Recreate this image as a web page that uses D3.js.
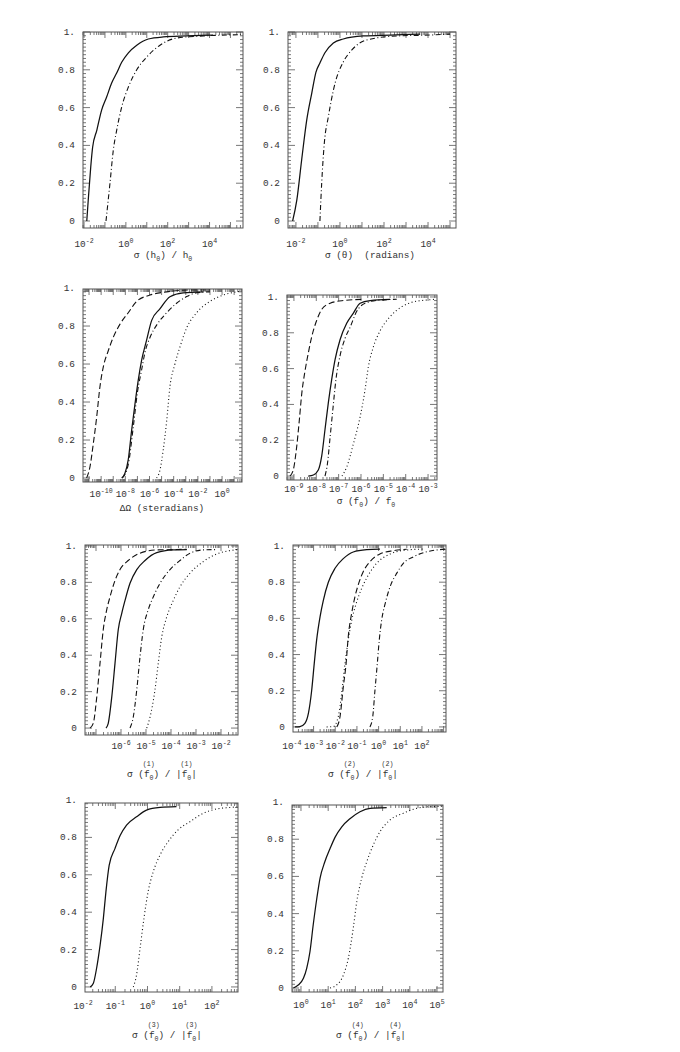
<!DOCTYPE html>
<html><head><meta charset="utf-8">
<script src="https://cdn.jsdelivr.net/npm/d3@7"></script>
<style>
body{margin:0;background:#fff}
text{font-family:"Liberation Mono","DejaVu Sans Mono",monospace;fill:#333;white-space:pre}
</style>
</head><body>
<svg id="c" width="680" height="1052"></svg>
<script>
// ---- data: [log10(x), cumulative fraction] ----
const h0Solid = [[-1.87,0],[-1.80,0.11],[-1.68,0.286],[-1.59,0.39],[-1.39,0.48],[-1.16,0.587],[-0.92,0.656],[-0.68,0.73],[-0.44,0.783],[-0.20,0.84],[0.12,0.89],[0.52,0.93],[1.07,0.963],[1.79,0.974],[2.91,0.979],[4.17,0.984]];
const h0DashDot = [[-0.95,0],[-0.76,0.2],[-0.6,0.376],[-0.44,0.48],[-0.2,0.603],[0.12,0.709],[0.52,0.80],[1.0,0.868],[1.63,0.93],[2.43,0.968],[3.7,0.979],[5.5,0.986]];
const thetaSolid = [[-2.15,0],[-1.96,0.11],[-1.74,0.323],[-1.51,0.534],[-1.28,0.677],[-1.09,0.788],[-0.91,0.836],[-0.69,0.889],[-0.30,0.942],[0.15,0.963],[1.06,0.979],[2.28,0.984],[3.64,0.989]];
const thetaDashDot = [[-0.91,0],[-0.83,0.2],[-0.71,0.413],[-0.53,0.55],[-0.22,0.73],[0.15,0.841],[0.54,0.905],[1.22,0.958],[2.58,0.979],[4.1,0.984],[5.0,0.989]];
const omegaDashed = [[-11.2,0],[-10.92,0.06],[-10.65,0.18],[-10.37,0.32],[-10.1,0.48],[-9.82,0.585],[-9.41,0.67],[-9.0,0.74],[-8.44,0.81],[-7.76,0.87],[-7.06,0.93],[-5.96,0.963],[-4.58,0.98],[-2.66,0.99],[-1.0,0.99]];
const omegaSolid = [[-8.3,0],[-8.03,0.025],[-7.76,0.095],[-7.48,0.25],[-7.2,0.39],[-6.93,0.515],[-6.65,0.62],[-6.24,0.726],[-5.82,0.83],[-5.14,0.89],[-4.31,0.954],[-3.21,0.975],[-1.56,0.98]];
const omegaDashDot = [[-8.25,0],[-7.76,0.07],[-7.34,0.27],[-7.0,0.45],[-6.65,0.57],[-6.38,0.66],[-5.96,0.74],[-5.41,0.805],[-4.58,0.87],[-3.76,0.92],[-2.93,0.955],[-2.1,0.975],[-1.0,0.98]];
const omegaDotted = [[-5.41,0],[-5.14,0.04],[-4.86,0.15],[-4.58,0.3],[-4.31,0.48],[-3.9,0.60],[-3.48,0.69],[-2.93,0.79],[-2.1,0.87],[-1.0,0.93],[0.1,0.963],[1.2,0.98],[1.6,0.983]];
const f0Dashed = [[-9.18,0],[-9.03,0.034],[-8.88,0.16],[-8.76,0.31],[-8.65,0.46],[-8.5,0.59],[-8.36,0.685],[-8.2,0.78],[-7.98,0.87],[-7.76,0.93],[-7.38,0.965],[-6.79,0.98],[-5.89,0.987]];
const f0Solid = [[-8.36,0],[-8.13,0.006],[-7.91,0.034],[-7.76,0.11],[-7.61,0.26],[-7.46,0.41],[-7.31,0.54],[-7.16,0.65],[-6.94,0.76],[-6.64,0.853],[-6.34,0.91],[-6.04,0.965],[-5.59,0.98],[-4.7,0.987]];
const f0DashDot = [[-7.61,0],[-7.5,0.07],[-7.38,0.22],[-7.26,0.37],[-7.12,0.54],[-6.94,0.67],[-6.71,0.77],[-6.49,0.83],[-6.19,0.92],[-5.82,0.965],[-5.15,0.983],[-4.4,0.987]];
const f0Dotted = [[-6.85,0],[-6.64,0.05],[-6.34,0.18],[-6.04,0.33],[-5.82,0.48],[-5.67,0.61],[-5.45,0.72],[-5.15,0.81],[-4.7,0.89],[-4.17,0.946],[-3.65,0.973],[-3.05,0.983],[-2.68,0.987]];
const f1Dashed = [[-7.24,0],[-7.11,0.026],[-6.97,0.17],[-6.84,0.355],[-6.71,0.54],[-6.57,0.65],[-6.44,0.72],[-6.24,0.81],[-6.04,0.87],[-5.71,0.92],[-5.24,0.96],[-4.57,0.978],[-3.77,0.98],[-3.37,0.982]];
const f1Solid = [[-6.6,0],[-6.51,0.026],[-6.37,0.17],[-6.24,0.355],[-6.11,0.54],[-5.97,0.63],[-5.84,0.70],[-5.64,0.795],[-5.37,0.87],[-5.04,0.92],[-4.57,0.963],[-3.91,0.978],[-3.37,0.98]];
const f1DashDot = [[-5.64,0],[-5.51,0.06],[-5.37,0.21],[-5.24,0.39],[-5.11,0.54],[-4.91,0.65],[-4.71,0.72],[-4.44,0.795],[-4.04,0.87],[-3.64,0.92],[-3.24,0.96],[-2.71,0.978],[-2.17,0.98]];
const f1Dotted = [[-4.97,0],[-4.84,0.06],[-4.64,0.21],[-4.51,0.355],[-4.37,0.50],[-4.17,0.61],[-3.91,0.70],[-3.64,0.776],[-3.24,0.85],[-2.71,0.914],[-2.17,0.956],[-1.64,0.974],[-1.33,0.98]];
const f2Solid = [[-3.86,0],[-3.63,0.002],[-3.4,0.02],[-3.24,0.075],[-3.09,0.20],[-2.97,0.35],[-2.86,0.48],[-2.70,0.61],[-2.55,0.70],[-2.32,0.80],[-2.01,0.877],[-1.63,0.93],[-1.17,0.967],[-0.55,0.98],[0.06,0.983]];
const f2Dashed = [[-1.93,0],[-1.78,0.057],[-1.63,0.22],[-1.5,0.35],[-1.4,0.50],[-1.24,0.63],[-1.09,0.72],[-0.94,0.785],[-0.71,0.858],[-0.4,0.913],[0.06,0.956],[0.68,0.974],[1.3,0.982]];
const f2Dotted = [[-2.4,0],[-2.09,0.002],[-1.86,0.057],[-1.7,0.19],[-1.55,0.35],[-1.4,0.48],[-1.24,0.59],[-1.04,0.68],[-0.78,0.766],[-0.47,0.84],[-0.09,0.904],[0.53,0.956],[1.3,0.978],[2.06,0.983]];
const f2DashDot = [[-0.4,0],[-0.27,0.057],[-0.17,0.20],[-0.06,0.35],[0.03,0.48],[0.14,0.59],[0.3,0.68],[0.53,0.775],[0.84,0.85],[1.14,0.904],[1.6,0.94],[2.22,0.968],[2.83,0.98],[3.1,0.983]];
const f3Solid = [[-1.78,0],[-1.68,0.02],[-1.58,0.1],[-1.47,0.225],[-1.37,0.367],[-1.29,0.51],[-1.19,0.65],[-1.01,0.74],[-0.85,0.81],[-0.65,0.866],[-0.34,0.91],[-0.03,0.946],[0.39,0.96],[0.90,0.964]];
const f3Dotted = [[-0.44,0],[-0.34,0.064],[-0.23,0.207],[-0.11,0.367],[0.02,0.51],[0.18,0.617],[0.39,0.706],[0.64,0.777],[0.95,0.84],[1.32,0.884],[1.73,0.929],[2.14,0.952],[2.56,0.96],[2.8,0.964]];
const f4Solid = [[-0.28,0],[-0.1,0.016],[0.09,0.052],[0.21,0.106],[0.33,0.195],[0.45,0.34],[0.58,0.48],[0.7,0.59],[0.88,0.68],[1.07,0.75],[1.25,0.81],[1.5,0.867],[1.8,0.91],[2.17,0.948],[2.54,0.966],[3.15,0.97]];
const f4Dotted = [[1.07,0],[1.31,0.016],[1.56,0.07],[1.74,0.16],[1.92,0.32],[2.05,0.464],[2.23,0.59],[2.42,0.68],[2.66,0.77],[2.9,0.84],[3.27,0.903],[3.76,0.94],[4.25,0.966],[4.74,0.975],[5.2,0.977]];

// tick label exponents
const h0Ticks = [-2,0,2,4];
const thetaTicks = [-2,0,2,4];
const omegaTicks = [-10,-8,-6,-4,-2,0];
const f0Ticks = [-9,-8,-7,-6,-5,-4,-3];
const f1Ticks = [-6,-5,-4,-3,-2];
const f2Ticks = [-4,-3,-2,-1,0,1,2];
const f3Ticks = [-2,-1,0,1,2];
const f4Ticks = [0,1,2,3,4,5];
const yTickValues = [0,0.2,0.4,0.6,0.8,1.0];
const yTickLabels = ["0","0.2","0.4","0.6","0.8","1."];

// ---- layout ----
const dash = {solid:null, dashed:"6,3", dashdot:"5,2.5,1,2.5", dotted:"1,2.6"};
const panels = [
 {f:[83,243,32,228], xd:[-2.05,5.6], yd:[-0.037,1.0], ticks:h0Ticks, tY:247, lY:258, lX:163,
  series:[[h0Solid,"solid"],[h0DashDot,"dashdot"]], label:[["σ (h"],["0","sub"],[") / h"],["0","sub"]]},
 {f:[288,456,32,228], xd:[-2.36,5.27], yd:[-0.037,1.0], ticks:thetaTicks, tY:247, lY:258, lX:370,
  series:[[thetaSolid,"solid"],[thetaDashDot,"dashdot"]], label:[["σ (θ)  (radians)"]]},
 {f:[83,242,289,482], xd:[-11.5,1.65], yd:[-0.021,0.995], ticks:omegaTicks, tY:497, lY:511, lX:162,
  series:[[omegaDashed,"dashed"],[omegaSolid,"solid"],[omegaDashDot,"dashdot"],[omegaDotted,"dotted"]], label:[["ΔΩ (steradians)"]]},
 {f:[287,437,295,480], xd:[-9.31,-2.6], yd:[-0.022,1.011], ticks:f0Ticks, tY:492, lY:504, lX:366,
  series:[[f0Dashed,"dashed"],[f0Solid,"solid"],[f0DashDot,"dashdot"],[f0Dotted,"dotted"]], label:[["σ (f"],["0","sub"],[") / f"],["0","sub"]]},
 {f:[85,238,545,735], xd:[-7.44,-1.32], yd:[-0.038,1.005], ticks:f1Ticks, tY:749, lY:777, lX:162, sup:"(1)",
  series:[[f1Dashed,"dashed"],[f1Solid,"solid"],[f1DashDot,"dashdot"],[f1Dotted,"dotted"]], label:[["σ ("],["f","over"],["0","sub"],[") / |"],["f","over"],["0","sub"],["|"]]},
 {f:[293,446,545,732], xd:[-3.95,3.11], yd:[-0.028,1.0055], ticks:f2Ticks, tY:749, lY:777, lX:363, sup:"(2)",
  series:[[f2Solid,"solid"],[f2Dashed,"dashed"],[f2Dotted,"dotted"],[f2DashDot,"dashdot"]], label:[["σ ("],["f","over"],["0","sub"],[") / |"],["f","over"],["0","sub"],["|"]]},
 {f:[85,238,803,992], xd:[-1.94,2.81], yd:[-0.027,0.984], ticks:f3Ticks, tY:1009, lY:1038, lX:167, sup:"(3)",
  series:[[f3Solid,"solid"],[f3Dotted,"dotted"]], label:[["σ ("],["f","over"],["0","sub"],[") / |"],["f","over"],["0","sub"],["|"]]},
 {f:[292,443,805,992], xd:[-0.33,5.22], yd:[-0.0215,0.984], ticks:f4Ticks, tY:1008, lY:1038, lX:371, sup:"(4)",
  series:[[f4Solid,"solid"],[f4Dotted,"dotted"]], label:[["σ ("],["f","over"],["0","sub"],[") / |"],["f","over"],["0","sub"],["|"]]}
];

const svg = d3.select("#c");
const FS = 9.4, SFS = 6.6;

panels.forEach(p => {
  const [x0,x1,y0,y1] = p.f;
  const xs = d3.scaleLog().domain([10**p.xd[0], 10**p.xd[1]]).range([x0,x1]);
  const ys = d3.scaleLinear().domain(p.yd).range([y1,y0]);
  const g = svg.append("g");

  const xt = [];
  for (let n = Math.floor(p.xd[0]); n <= Math.ceil(p.xd[1]); n++)
    for (let k = 1; k <= 9; k++) {
      const v = k * 10**n;
      if (v >= 10**p.xd[0] && v <= 10**p.xd[1]) xt.push([v, k===1]);
    }
  g.selectAll(null).data(xt).join("line")
    .attr("x1", d=>xs(d[0])).attr("x2", d=>xs(d[0]))
    .attr("y1", y1).attr("y2", d=>y1 - (d[1]?6:3))
    .attr("stroke","#555").attr("stroke-width",0.8);
  g.selectAll(null).data(xt).join("line")
    .attr("x1", d=>xs(d[0])).attr("x2", d=>xs(d[0]))
    .attr("y1", y0).attr("y2", d=>y0 + (d[1]?6:3))
    .attr("stroke","#555").attr("stroke-width",0.8);

  const yt = d3.range(0, 50.5, 1).map(i => i*0.02).filter(v => v>=p.yd[0] && v<=p.yd[1]+1e-9);
  const isMaj = v => Math.abs(v*5 - Math.round(v*5)) < 1e-6;
  g.selectAll(null).data(yt).join("line")
    .attr("y1", d=>ys(d)).attr("y2", d=>ys(d))
    .attr("x1", x0).attr("x2", d=>x0 + (isMaj(d)?7:3))
    .attr("stroke","#555").attr("stroke-width",0.8);
  g.selectAll(null).data(yt).join("line")
    .attr("y1", d=>ys(d)).attr("y2", d=>ys(d))
    .attr("x1", x1).attr("x2", d=>x1 - (isMaj(d)?7:3))
    .attr("stroke","#555").attr("stroke-width",0.8);

  g.append("rect").attr("x",x0).attr("y",y0).attr("width",x1-x0).attr("height",y1-y0)
    .attr("fill","none").attr("stroke","#555").attr("stroke-width",1);

  yTickValues.forEach((v,i) => {
    g.append("text").attr("x", x0-8).attr("y", ys(v)+3).attr("text-anchor","end")
      .attr("font-size",FS).text(yTickLabels[i]);
  });

  p.ticks.forEach(e => {
    const t = g.append("text").attr("x", xs(10**e)).attr("y", p.tY).attr("text-anchor","middle").attr("font-size",FS);
    t.append("tspan").text("10");
    t.append("tspan").attr("font-size",SFS).attr("dy",-4).text(String(e));
  });

  const line = d3.line().x(d=>xs(10**d[0])).y(d=>ys(d[1])).curve(d3.curveMonotoneX);
  p.series.forEach(([data, style]) => {
    g.append("path").attr("d", line(data)).attr("fill","none").attr("stroke","#111")
      .attr("stroke-width", style==="solid"?1.25:1.1)
      .attr("stroke-dasharray", dash[style]);
  });

  const lt = g.append("text").attr("x", p.lX).attr("y", p.lY).attr("text-anchor","middle").attr("font-size",FS);
  let prevSub = false;
  const overIdx = [];
  let charCount = 0;
  p.label.forEach(([s, kind]) => {
    const ts = lt.append("tspan").text(s);
    if (kind === "sub") { ts.attr("font-size",SFS).attr("dy",2.5); prevSub = true; }
    else if (prevSub) { ts.attr("dy",-2.5); prevSub = false; }
    if (kind === "over") overIdx.push(charCount);
    charCount += [...s].length;
  });
  if (p.sup) {
    const node = lt.node();
    overIdx.forEach(ci => {
      const a = node.getStartPositionOfChar(ci);
      const b = node.getEndPositionOfChar(ci+1);
      g.append("text").attr("x", (a.x+b.x)/2).attr("y", p.lY-11).attr("text-anchor","middle")
        .attr("font-size",SFS).text(p.sup);
    });
  }
});
</script>
</body></html>
